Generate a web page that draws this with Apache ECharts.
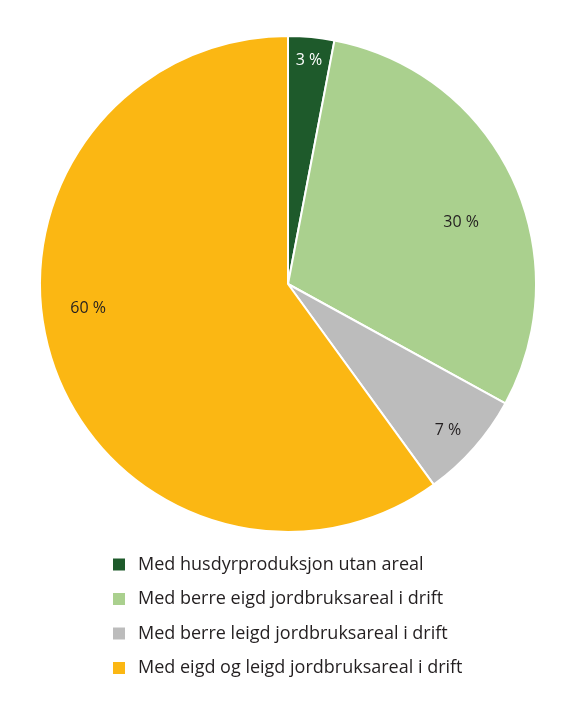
<!DOCTYPE html>
<html>
<head>
<meta charset="utf-8">
<script src="https://cdn.jsdelivr.net/npm/echarts@6/dist/echarts.min.js"></script>
<style>
	html, body { margin: 0; padding: 0; background: #fff; }
	#chart { width: 576px; height: 709px; }
</style>
</head>
<body>
<div id="chart"></div>
<script>
// data
var categories = [
	'Med husdyrproduksjon utan areal',
	'Med berre eigd jordbruksareal i drift',
	'Med berre leigd jordbruksareal i drift',
	'Med eigd og leigd jordbruksareal i drift'
];
var shares = [3, 30, 7, 60];

// styling
var colors = ['#1e5a2b', '#aad08e', '#bcbcbc', '#fbb713'];
var labelColors = ['#ffffff', '#231f20', '#231f20', '#231f20'];
// where each label sits, relative to the pie centre, in radii
var labelSpot = [[0.085, -0.903], [0.698, -0.25], [0.645, 0.589], [-0.806, 0.1]];

var CX = 288, CY = 284, R = 248;

function initEchart(id, option) {
	var _echart = echarts.init(document.getElementById(id));
	_echart.setOption(option);
	return _echart;
}

var pieData = categories.map(function(name, i) {
	return {
		name: name,
		value: shares[i],
		itemStyle: { color: colors[i] },
		label: { color: labelColors[i] }
	};
});

initEchart('chart', {
	animation: false,
	textStyle: { fontFamily: 'Open Sans' },
	legend: {
		orient: 'vertical',
		left: 106,
		top: 549,
		itemWidth: 14,
		itemHeight: 14,
		itemGap: 13.5,
		icon: 'rect',
		data: categories,
		textStyle: { fontSize: 18, color: '#231f20', lineHeight: 21, padding: [0, 0, 0, 7] }
	},
	series: [{
		type: 'pie',
		center: [CX, CY],
		radius: R,
		startAngle: 90,
		clockwise: true,
		data: pieData,
		itemStyle: { borderColor: '#ffffff', borderWidth: 2 },
		label: {
			show: true,
			position: 'inside',
			fontSize: 16,
			formatter: function(p) { return p.value + ' %'; }
		},
		labelLine: { show: false },
		emphasis: { disabled: true },
		labelLayout: function(params) {
			var rect = params.labelRect;
			var lx = rect.x + rect.width / 2, ly = rect.y + rect.height / 2;
			var s = labelSpot[params.dataIndex];
			return { dx: CX + s[0] * R - lx, dy: CY + s[1] * R - ly };
		}
	}]
});
</script>
</body>
</html>
